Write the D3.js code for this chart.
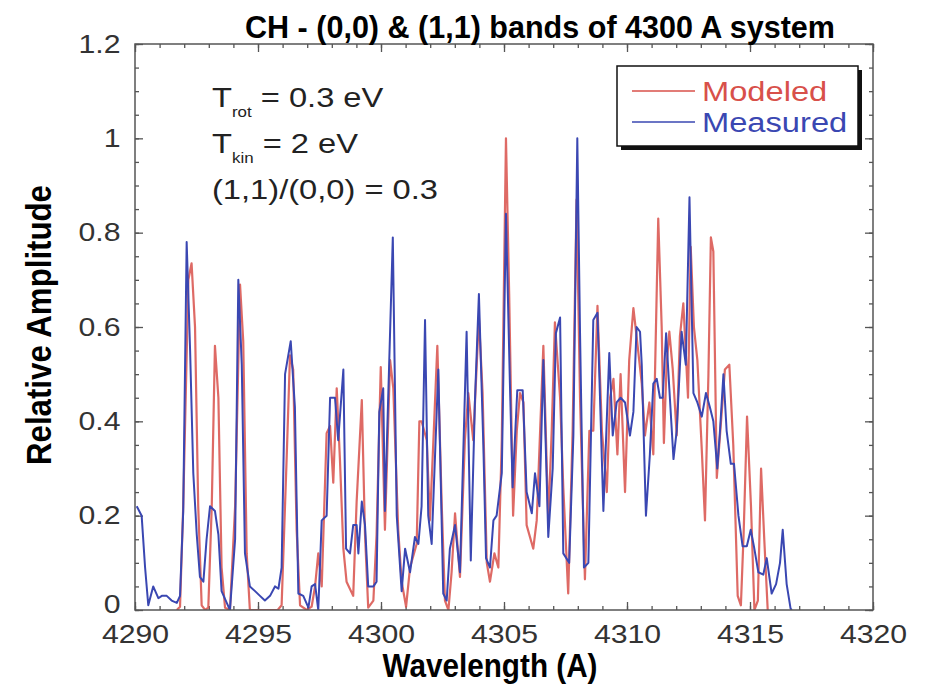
<!DOCTYPE html>
<html lang="en">
<head>
<meta charset="UTF-8">
<title>CH - (0,0) & (1,1) bands</title>
<script src="https://d3js.org/d3.v7.min.js"></script>
<style>
  body { margin: 0; background: #fff; }
  text { font-family: "Liberation Sans", Arial, Helvetica, sans-serif; }
</style>
</head>
<body>
<script>
// modeled spectrum (red)
var wlModeled = [4291.70,4291.83,4291.96,4292.17,4292.30,4292.44,4292.57,4292.71,4292.85,4292.98,
  4293.12,4293.25,4293.39,4293.52,4293.66,4293.86,4294.07,4294.27,4294.40,4294.54,4294.67,4294.95,
  4295.40,4295.80,4295.96,4296.17,4296.30,4296.43,4296.57,4296.71,4296.98,4297.18,4297.32,4297.45,
  4297.59,4297.79,4297.93,4298.06,4298.20,4298.33,4298.47,4298.60,4298.87,4299.01,4299.22,4299.35,
  4299.48,4299.69,4299.82,4299.99,4300.16,4300.37,4300.50,4300.70,4300.84,4301.02,4301.18,4301.45,
  4301.56,4301.65,4301.86,4301.99,4302.13,4302.29,4302.47,4302.60,4302.74,4302.87,4303.01,4303.21,
  4303.41,4303.55,4303.75,4303.98,4304.13,4304.30,4304.43,4304.61,4304.77,4304.91,4305.08,4305.21,
  4305.37,4305.52,4305.65,4305.79,4305.92,4306.19,4306.33,4306.60,4306.80,4306.94,4307.07,4307.28,
  4307.41,4307.61,4307.79,4307.95,4308.09,4308.29,4308.47,4308.63,4308.80,4308.98,4309.18,4309.31,
  4309.45,4309.61,4309.74,4309.92,4310.09,4310.26,4310.39,4310.60,4310.73,4310.91,4311.07,4311.27,
  4311.41,4311.50,4311.61,4311.72,4311.86,4312.02,4312.15,4312.29,4312.48,4312.59,4312.72,4312.86,
  4313.04,4313.17,4313.31,4313.41,4313.51,4313.65,4313.78,4313.98,4314.16,4314.32,4314.50,4314.63,
  4314.74,4314.88,4315.04,4315.18,4315.32,4315.45,4315.58,4315.72];
var ampModeled = [0.0,0.007,0.22,0.70,0.735,0.60,0.22,0.01,0.0,0.005,
  0.22,0.56,0.45,0.09,0.005,0.0,0.22,0.69,0.57,0.12,0.0,0.0,
  0.0,0.0,0.01,0.33,0.54,0.51,0.17,0.01,0.0,0.007,0.05,0.12,
  0.05,0.375,0.39,0.27,0.47,0.32,0.13,0.06,0.03,0.23,0.445,0.16,
  0.005,0.02,0.16,0.515,0.17,0.53,0.47,0.17,0.06,0.007,0.09,0.14,
  0.40,0.40,0.36,0.19,0.36,0.56,0.22,0.02,0.0,0.08,0.205,0.07,
  0.36,0.46,0.36,0.62,0.46,0.10,0.06,0.12,0.09,0.36,1.0,0.67,
  0.20,0.38,0.46,0.44,0.18,0.13,0.19,0.56,0.19,0.38,0.61,0.45,
  0.26,0.035,0.38,0.87,0.45,0.065,0.38,0.38,0.645,0.38,0.25,0.45,
  0.49,0.33,0.50,0.25,0.53,0.64,0.58,0.48,0.37,0.44,0.33,0.83,
  0.60,0.354,0.52,0.59,0.51,0.37,0.58,0.65,0.45,0.77,0.60,0.53,
  0.34,0.19,0.50,0.79,0.76,0.28,0.37,0.51,0.52,0.35,0.03,0.01,
  0.16,0.41,0.22,0.0,0.02,0.30,0.15,0.0];

// measured spectrum (blue)
var wlMeasured = [4290.07,4290.27,4290.41,4290.54,4290.74,4290.95,4291.09,4291.29,4291.49,4291.70,
  4291.83,4291.96,4292.10,4292.24,4292.37,4292.51,4292.64,4292.78,4292.91,4293.05,4293.25,4293.39,
  4293.52,4293.73,4293.86,4294.07,4294.20,4294.34,4294.47,4294.67,4294.88,4295.08,4295.28,4295.49,
  4295.69,4295.83,4295.96,4296.10,4296.33,4296.50,4296.64,4296.84,4297.05,4297.18,4297.32,4297.45,
  4297.59,4297.79,4297.93,4298.13,4298.26,4298.47,4298.58,4298.74,4298.87,4299.01,4299.08,4299.22,
  4299.35,4299.48,4299.69,4299.82,4299.93,4300.09,4300.16,4300.48,4300.64,4300.84,4300.98,4301.18,
  4301.38,4301.52,4301.65,4301.79,4301.92,4302.06,4302.33,4302.53,4302.67,4302.80,4303.01,4303.21,
  4303.48,4303.65,4303.82,4303.98,4304.16,4304.27,4304.43,4304.57,4304.70,4304.91,4305.08,4305.24,
  4305.35,4305.54,4305.76,4305.92,4306.13,4306.26,4306.44,4306.60,4306.80,4306.98,4307.11,4307.28,
  4307.41,4307.65,4307.82,4307.98,4308.09,4308.25,4308.43,4308.63,4308.80,4309.04,4309.28,4309.42,
  4309.58,4309.74,4309.92,4310.12,4310.26,4310.39,4310.53,4310.60,4310.77,4310.93,4311.07,4311.21,
  4311.34,4311.45,4311.59,4311.72,4311.89,4312.02,4312.22,4312.39,4312.54,4312.70,4312.86,4313.04,
  4313.21,4313.37,4313.51,4313.67,4313.78,4313.92,4314.05,4314.22,4314.35,4314.53,4314.70,4314.87,
  4315.03,4315.16,4315.34,4315.54,4315.68,4315.88,4316.06,4316.22,4316.33,4316.49,4316.65,4316.70];
var ampMeasured = [0.22,0.20,0.09,0.01,0.05,0.025,0.03,0.03,0.02,0.015,
  0.03,0.21,0.78,0.55,0.29,0.16,0.07,0.06,0.15,0.22,0.21,0.16,
  0.04,0.015,0.0,0.15,0.70,0.52,0.12,0.05,0.04,0.03,0.02,0.03,
  0.05,0.045,0.09,0.50,0.57,0.43,0.035,0.03,0.005,0.05,0.055,0.0,
  0.19,0.20,0.45,0.45,0.36,0.51,0.13,0.12,0.18,0.18,0.12,0.23,
  0.18,0.05,0.05,0.06,0.42,0.47,0.21,0.79,0.20,0.04,0.13,0.08,
  0.155,0.14,0.22,0.615,0.20,0.14,0.51,0.035,0.02,0.13,0.18,0.08,
  0.59,0.105,0.445,0.67,0.35,0.11,0.09,0.19,0.20,0.29,0.84,0.48,
  0.26,0.466,0.466,0.25,0.205,0.29,0.22,0.53,0.155,0.30,0.587,0.62,
  0.12,0.10,0.37,1.0,0.59,0.09,0.10,0.615,0.63,0.21,0.545,0.37,
  0.44,0.45,0.44,0.37,0.42,0.60,0.59,0.52,0.20,0.33,0.48,0.49,
  0.45,0.45,0.587,0.47,0.32,0.38,0.59,0.52,0.875,0.46,0.44,0.41,
  0.46,0.43,0.40,0.30,0.38,0.50,0.38,0.31,0.31,0.20,0.135,0.135,
  0.17,0.135,0.08,0.075,0.11,0.035,0.055,0.10,0.17,0.055,0.003,0.0];

var xTicks = [4290, 4295, 4300, 4305, 4310, 4315, 4320];
var yTicks = [0, 0.2, 0.4, 0.6, 0.8, 1, 1.2];
var seriesNames = ["Modeled", "Measured"];
var seriesColors = ["#d8504a", "#3a47b2"];

var W = 927, H = 684;
// plot box (window.top is read-only, so no bare "top")
var boxL = 135, boxR = 873, boxT = 44, boxB = 610;
var sx = 1.21; // glyphs in the source are stretched sideways

var svg = d3.select("body").append("svg")
    .attr("width", W)
    .attr("height", H);

var x = d3.scaleLinear().domain([4290, 4320]).range([boxL, boxR]);
var y = d3.scaleLinear().domain([0, 1.2]).range([boxB, boxT]);

svg.append("clipPath").attr("id", "plot")
  .append("rect")
    .attr("x", boxL).attr("y", boxT - 2)
    .attr("width", boxR - boxL).attr("height", boxB - boxT + 2);

// ticks on all four sides, pointing in
var minorX = d3.range(4290, 4321, 1);
var minorY = d3.range(0, 1.2001, 0.05);

function tickAxis(axis, g) {
  g.call(axis);
  g.select(".domain").remove();
  g.selectAll("line").attr("stroke", "#555").attr("stroke-width", 1.3);
  return g;
}

tickAxis(d3.axisBottom(x).tickValues(minorX).tickSize(-4).tickFormat(""),
  svg.append("g").attr("transform", "translate(0," + boxB + ")"));
tickAxis(d3.axisTop(x).tickValues(minorX).tickSize(-4).tickFormat(""),
  svg.append("g").attr("transform", "translate(0," + boxT + ")"));
tickAxis(d3.axisLeft(y).tickValues(minorY).tickSize(-4).tickFormat(""),
  svg.append("g").attr("transform", "translate(" + boxL + ",0)"));
tickAxis(d3.axisRight(y).tickValues(minorY).tickSize(-4).tickFormat(""),
  svg.append("g").attr("transform", "translate(" + boxR + ",0)"));
tickAxis(d3.axisTop(x).tickValues(xTicks).tickSize(-8).tickFormat(""),
  svg.append("g").attr("transform", "translate(0," + boxT + ")"));
tickAxis(d3.axisRight(y).tickValues(yTicks).tickSize(-8).tickFormat(""),
  svg.append("g").attr("transform", "translate(" + boxR + ",0)"));

var xAxis = tickAxis(d3.axisBottom(x).tickValues(xTicks).tickSize(-8).tickPadding(15)
    .tickFormat(d3.format("d")),
  svg.append("g").attr("transform", "translate(0," + boxB + ")"));
xAxis.selectAll("text")
    .attr("font-size", 25).attr("fill", "#333")
    .attr("transform", "scale(" + sx + ",1)");

var yAxis = tickAxis(d3.axisLeft(y).tickValues(yTicks).tickSize(-8).tickPadding(12)
    .tickFormat(function(d) { return d === 0 || d === 1 ? String(d) : d3.format(".1f")(d); }),
  svg.append("g").attr("transform", "translate(" + boxL + ",0)"));
yAxis.selectAll("text")
    .attr("font-size", 25).attr("fill", "#333")
    .attr("transform", "scale(" + sx + ",1)");
yAxis.selectAll("text").filter(function(d) { return d === 0; }).attr("dy", "0.1em");

// spectra
var line = d3.line().x(function(d) { return x(d[0]); }).y(function(d) { return y(d[1]); });
var plot = svg.append("g").attr("clip-path", "url(#plot)");
plot.append("path")
    .datum(d3.zip(wlModeled, ampModeled))
    .attr("d", line)
    .attr("fill", "none")
    .attr("stroke", seriesColors[0])
    .attr("stroke-width", 2.2)
    .attr("stroke-opacity", 0.85)
    .attr("stroke-linejoin", "round");
plot.append("path")
    .datum(d3.zip(wlMeasured, ampMeasured))
    .attr("d", line)
    .attr("fill", "none")
    .attr("stroke", seriesColors[1])
    .attr("stroke-width", 2)
    .attr("stroke-linejoin", "round");

// frame
svg.append("rect")
    .attr("x", boxL).attr("y", boxT)
    .attr("width", boxR - boxL).attr("height", boxB - boxT)
    .attr("fill", "none")
    .attr("stroke", "#555")
    .attr("stroke-width", 1.5);

// titles (condensed bold in the source: tall glyphs squeezed to width)
svg.append("text")
    .attr("x", 540).attr("y", 38)
    .attr("text-anchor", "middle")
    .attr("font-size", 32).attr("font-weight", "bold")
    .attr("textLength", 590).attr("lengthAdjust", "spacingAndGlyphs")
    .text("CH - (0,0) & (1,1) bands of 4300 A system");

svg.append("text")
    .attr("x", 490).attr("y", 677)
    .attr("text-anchor", "middle")
    .attr("font-size", 33).attr("font-weight", "bold")
    .attr("textLength", 215).attr("lengthAdjust", "spacingAndGlyphs")
    .text("Wavelength (A)");

svg.append("text")
    .attr("transform", "translate(51,325) rotate(-90)")
    .attr("text-anchor", "middle")
    .attr("font-size", 35).attr("font-weight", "bold")
    .attr("textLength", 280).attr("lengthAdjust", "spacingAndGlyphs")
    .text("Relative Amplitude");

// parameters
var note = svg.append("g")
    .attr("transform", "translate(212,0) scale(" + sx + ",1)")
    .attr("font-size", 27)
    .attr("fill", "#222");
var t1 = note.append("text").attr("x", 0).attr("y", 107);
t1.append("tspan").text("T");
t1.append("tspan").attr("font-size", 14).attr("dy", 10).text("rot");
t1.append("tspan").attr("dy", -10).text(" = 0.3 eV");
var t2 = note.append("text").attr("x", 0).attr("y", 153);
t2.append("tspan").text("T");
t2.append("tspan").attr("font-size", 14).attr("dy", 10).text("kin");
t2.append("tspan").attr("dy", -10).text(" = 2 eV");
note.append("text").attr("x", 0).attr("y", 199).text("(1,1)/(0,0) = 0.3");

// legend
var lg = svg.append("g");
lg.append("rect")
    .attr("x", 621).attr("y", 70).attr("width", 241).attr("height", 80)
    .attr("fill", "#111");
lg.append("rect")
    .attr("x", 617).attr("y", 66).attr("width", 241).attr("height", 80)
    .attr("fill", "#fff").attr("stroke", "#111").attr("stroke-width", 1.5);
seriesNames.forEach(function(name, i) {
  var ly = 91 + i * 31;
  lg.append("line")
      .attr("x1", 632).attr("x2", 695).attr("y1", ly).attr("y2", ly)
      .attr("stroke", seriesColors[i]).attr("stroke-width", 1.5);
  lg.append("text")
      .attr("transform", "translate(702," + (ly + 10) + ") scale(" + sx + ",1)")
      .attr("font-size", 27)
      .attr("fill", seriesColors[i])
      .text(name);
});
</script>
</body>
</html>
